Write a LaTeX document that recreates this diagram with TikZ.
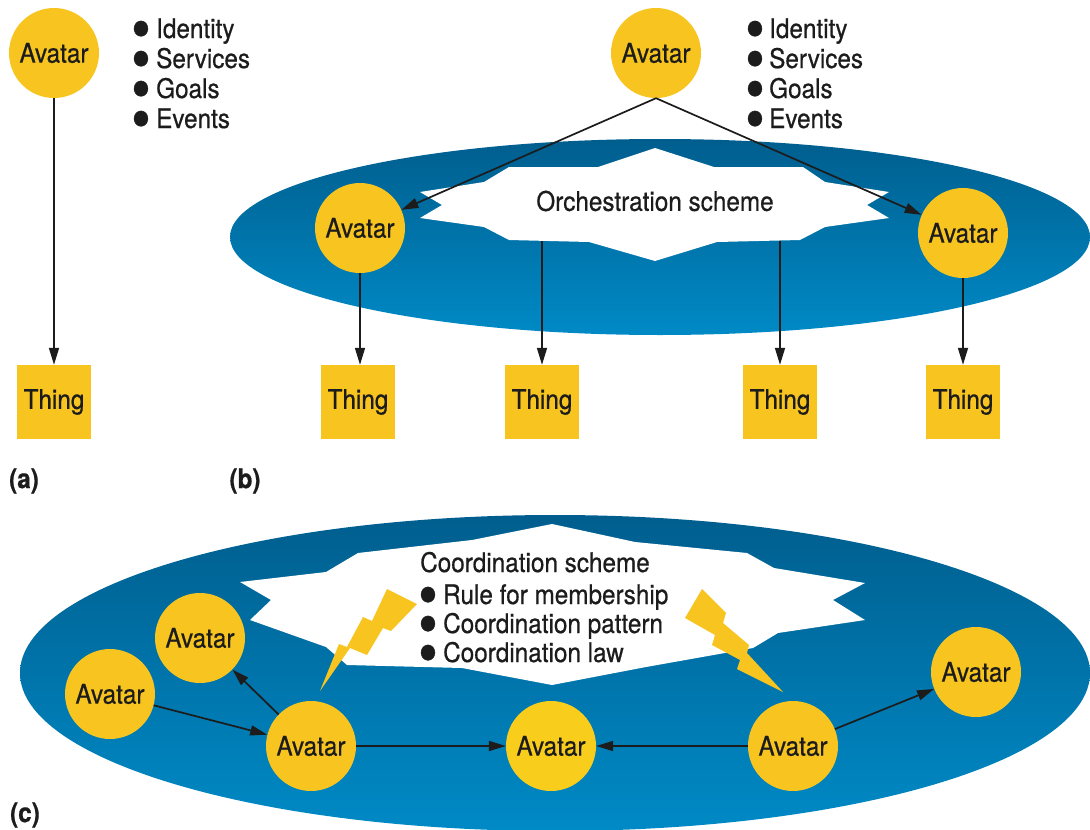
\documentclass[tikz,border=0pt]{standalone}
\usepackage{fontspec}
\setmainfont{TeX Gyre Heros}[FakeStretch=0.9,FakeBold=0.6]
\usetikzlibrary{arrows.meta}
\definecolor{avy}{RGB}{247,196,32}
\definecolor{ink}{RGB}{28,28,28}
\definecolor{blueT}{RGB}{0,94,142}
\definecolor{blueB}{RGB}{0,138,198}
\tikzset{
 avatar/.style={circle,fill=avy,minimum size=90pt,inner sep=0pt,text=ink,font=\fontsize{27}{27}\selectfont},
 thing/.style={rectangle,fill=avy,minimum size=74pt,inner sep=0pt,text=ink,font=\fontsize{27}{27}\selectfont},
 txt/.style={anchor=base west,inner sep=0pt,text=ink,font=\fontsize{27}{27}\selectfont},
 bul/.style={anchor=base,inner sep=0pt,text=ink,text height=24pt,text depth=0pt,font=\fontsize{62}{62}\selectfont},
 lbl/.style={inner sep=0pt,text=ink,font=\bfseries\fontsize{27}{27}\selectfont},
 arr/.style={-{Triangle[length=17pt,width=10pt]},line width=1.7pt,draw=ink},
}
\begin{document}
\begin{tikzpicture}[x=1pt,y=-1pt]
\useasboundingbox (0,0) rectangle (1090,830);
\clip (0,0) rectangle (1090,830);
% ---------- (a)
\node[avatar] (aA) at (54,53) {Avatar};
\node[thing] (aT) at (54,402) {Thing};
\draw[arr] (aA) -- (aT);
\foreach \t [count=\i] in {Identity,Services,Goals,Events}{
  \node[bul] (ab\i) at (141,{38+(\i-1)*30+12}) {\textbullet};
  \node[txt] (al\i) at (156,{38+(\i-1)*30}) {\t};
}
\node[lbl] (la) at (24,481) {(a)};
% ---------- (b)
\shade[top color=blueT,bottom color=blueB] (660,237) ellipse [x radius=430pt,y radius=98pt];
\fill[white] (655,148) -- (714,167) -- (803,167) -- (825,182) -- (889,192) -- (867,205) -- (889,218) -- (825,227) -- (800,240) -- (717,242) -- (655,261) -- (589,242) -- (509,240) -- (484,227) -- (420,218) -- (442,205) -- (420,192) -- (484,182) -- (509,167) -- (598,167) -- cycle;
\node[txt,anchor=center] (orch) at (655,201) {Orchestration scheme};
\coordinate (s1) at (542,241);
\coordinate (s2) at (780,241);
\node[avatar] (bA) at (656,53) {Avatar};
\node[avatar] (bL) at (360,228) {Avatar};
\node[avatar] (bR) at (963,233) {Avatar};
\node[thing] (bT1) at (358,402) {Thing};
\node[thing] (bT2) at (542,402) {Thing};
\node[thing] (bT3) at (780,402) {Thing};
\node[thing] (bT4) at (963,402) {Thing};
\draw[arr] (bA.south) -- (bL);
\draw[arr] (bA.south) -- (bR);
\draw[arr] (bL.south) -- (bL.south |- bT1.north);
\draw[arr] (s1) -- (bT2.north);
\draw[arr] (s2) -- (bT3.north);
\draw[arr] (bR.south) -- (bT4.north);
\foreach \t [count=\i] in {Identity,Services,Goals,Events}{
  \node[bul] (bb\i) at (755,{38+(\i-1)*30+12}) {\textbullet};
  \node[txt] (bl\i) at (769,{38+(\i-1)*30}) {\t};
}
\node[lbl] (lb) at (245,481) {(b)};
% ---------- (c)
\shade[top color=blueT,bottom color=blueB] (555,673) ellipse [x radius=535pt,y radius=158pt];
\fill[white] (552,524) -- (635,542) -- (747,553) -- (774,568) -- (865,583) -- (833,600) -- (865,620) -- (778,633) -- (753,648) -- (646,667) -- (552,685) -- (462,668) -- (347,665) -- (326,647) -- (250,620) -- (271,600) -- (240,582) -- (326,572) -- (358,553) -- (472,540) -- cycle;
\node[txt] (ct0) at (420,572) {Coordination scheme};
\node[bul] (cb1) at (428,{604+12}) {\textbullet};
\node[txt] (ct1) at (443,604) {Rule for membership};
\node[bul] (cb2) at (428,{633+12}) {\textbullet};
\node[txt] (ct2) at (443,633) {Coordination pattern};
\node[bul] (cb3) at (428,{662+12}) {\textbullet};
\node[txt] (ct3) at (443,662) {Coordination law};
% lightning bolts
\fill[avy] (387,589) -- (417,604) -- (391,631) -- (383,628) -- (367,655) -- (350,648) -- (320,691) -- (339,644) -- (347,647) -- (363,617) -- (372,621) -- cycle;
\fill[avy] (702,589) -- (726,613) -- (723,623) -- (749,645) -- (747,653) -- (783,692) -- (737,669) -- (740,660) -- (712,645) -- (715,635) -- (685,618) -- cycle;
\node[avatar] (cUL) at (200,638) {Avatar};
\node[avatar] (cL) at (110,694) {Avatar};
\node[avatar] (cCL) at (311,746) {Avatar};
\node[avatar,fill=avy!85!yellow] (cC) at (551,746) {Avatar};
\node[avatar] (cCR) at (793,746) {Avatar};
\node[avatar] (cR) at (976,672) {Avatar};
\draw[arr] (cL) -- (cCL);
\draw[arr] (cCL) -- (cUL);
\draw[arr] (cCL) -- (cC);
\draw[arr] (cCR) -- (cC);
\draw[arr] (cCR) -- (cR);
\node[lbl] (lc) at (25,815) {(c)};
\end{tikzpicture}
\end{document}
